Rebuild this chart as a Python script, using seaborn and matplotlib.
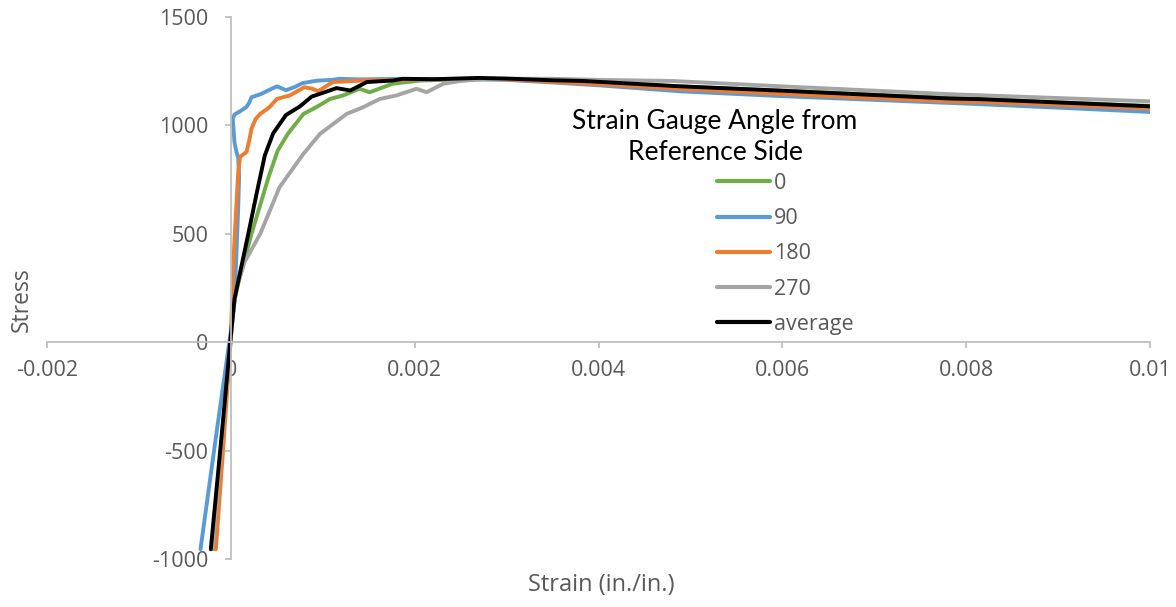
import matplotlib
matplotlib.use("Agg")
import matplotlib.pyplot as plt
import seaborn as sns
import pandas as pd

# ---- data ----
series_names = ["0", "90", "180", "270", "average"]

strain_0 = [-0.00019, -0.00009, 0.0, 0.00004, 0.00008, 0.000225, 0.00041, 0.00051, 0.00062, 0.00079,
            0.00093, 0.00108, 0.00122, 0.0014, 0.00151, 0.00176, 0.00206, 0.0025, 0.003, 0.004,
            0.005, 0.006, 0.008, 0.01]
stress_0 = [-955, -450, 25, 195, 270, 500, 761, 884, 961, 1053,
            1084, 1122, 1138, 1169, 1153, 1192, 1207, 1212, 1214, 1195,
            1178, 1160, 1124, 1090]

strain_90 = [-0.00033, -0.00015, 0.0, 0.00004, 0.00006, 0.00008, 0.00009, 0.00008, 0.00006, 0.00004,
             0.00003, 0.00002, 0.00004, 0.0001, 0.00017, 0.0002, 0.000225, 0.00028, 0.00033, 0.0004,
             0.0005, 0.00055, 0.0006, 0.0007, 0.00078, 0.00093, 0.0011, 0.00118, 0.0014, 0.0017,
             0.002, 0.0025, 0.003, 0.0035, 0.004, 0.0049, 0.006, 0.0078, 0.00815, 0.009, 0.01]
stress_90 = [-955, -400, 50, 190, 400, 620, 760, 850, 880, 920,
             980, 1030, 1050, 1065, 1085, 1105, 1130, 1138, 1145, 1160,
             1180, 1172, 1162, 1178, 1195, 1206, 1210, 1215, 1212, 1214,
             1213, 1214, 1210, 1198, 1185, 1157, 1135, 1104, 1098, 1082, 1062]

strain_180 = [-0.000163, -0.00008, 0.0, 0.000025, 0.00005, 0.00008, 0.0001, 0.00017, 0.0002, 0.000225,
              0.00027, 0.00032, 0.00042, 0.0005, 0.00064, 0.0008, 0.00088, 0.00095, 0.00111, 0.00144,
              0.002, 0.0027, 0.003, 0.004, 0.0049, 0.006, 0.0078, 0.00815, 0.01]
stress_180 = [-955, -470, 20, 347, 550, 780, 855, 877, 930, 985,
              1030, 1053, 1084, 1122, 1138, 1176, 1170, 1158, 1200, 1207,
              1212, 1216, 1212, 1190, 1168, 1145, 1111, 1108, 1078]

strain_270 = [-0.0002, -0.0001, 0.0, 0.00004, 0.00008, 0.00015, 0.00032, 0.00053, 0.00079, 0.00097,
              0.00126, 0.00144, 0.00162, 0.0018, 0.00202, 0.00213, 0.00231, 0.0025, 0.0028, 0.0035,
              0.004, 0.0048, 0.006, 0.00782, 0.00815, 0.01]
stress_270 = [-955, -460, 20, 195, 280, 370, 500, 715, 869, 961,
              1053, 1084, 1122, 1138, 1169, 1153, 1192, 1205, 1215, 1215,
              1210, 1205, 1180, 1144, 1139, 1111]

strain_avg = [-0.000218, -0.0001, 0.0, 0.00004, 0.00009, 0.00019, 0.00028, 0.00037, 0.00046, 0.0006,
              0.00075, 0.00088, 0.001, 0.00115, 0.0013, 0.00148, 0.00176, 0.00187, 0.0022, 0.0027,
              0.003, 0.0035, 0.00383, 0.0049, 0.006, 0.00782, 0.00815, 0.01]
stress_avg = [-955, -430, 30, 200, 300, 500, 685, 862, 963, 1048,
              1087, 1133, 1150, 1172, 1161, 1200, 1207, 1215, 1213, 1219,
              1216, 1208, 1205, 1180, 1160, 1124, 1121, 1088]

x_ticks = [-0.002, 0, 0.002, 0.004, 0.006, 0.008, 0.01]
x_tick_labels = ["-0.002", "0", "0.002", "0.004", "0.006", "0.008", "0.01"]
y_ticks = [-1000, -500, 0, 500, 1000, 1500]
y_tick_labels = ["-1000", "-500", "0", "500", "1000", "1500"]

colors = {"0": "#70AD47", "90": "#5B9BD5", "180": "#ED7D31", "270": "#A5A5A5", "average": "#000000"}

frames = []
for name, xs, ys in zip(series_names,
                        [strain_0, strain_90, strain_180, strain_270, strain_avg],
                        [stress_0, stress_90, stress_180, stress_270, stress_avg]):
    frames.append(pd.DataFrame({"Strain": xs, "Stress": ys, "series": name}))
df = pd.concat(frames, ignore_index=True)

# ---- plot ----
sns.set_theme(style="white")
plt.rcParams["font.family"] = ["Open Sans", "DejaVu Sans"]

W, H = 1176, 607
fig = plt.figure(figsize=(W / 100, H / 100), dpi=100)
ax = fig.add_axes([47 / W, 1 - 559 / H, (1150 - 47) / W, (559 - 17) / H])

sns.lineplot(data=df, x="Strain", y="Stress", hue="series", hue_order=series_names,
             palette=colors, sort=False, estimator=None, linewidth=2.8, ax=ax, legend=True)

ax.set_xlim(-0.002, 0.01)
ax.set_ylim(-1000, 1500)
ax.set_xticks(x_ticks)
ax.set_xticklabels(x_tick_labels)
ax.set_yticks(y_ticks)
ax.set_yticklabels(y_tick_labels)

axis_gray = "#BFBFBF"
label_gray = "#595959"
for s in ["top", "right"]:
    ax.spines[s].set_visible(False)
ax.spines["left"].set_position(("data", 0))
ax.spines["bottom"].set_position(("data", 0))
for s in ["left", "bottom"]:
    ax.spines[s].set_color(axis_gray)
    ax.spines[s].set_linewidth(1.3)
ax.tick_params(axis="both", direction="out", length=4, width=1.3, color=axis_gray,
               labelcolor=label_gray, labelsize=15.5)
ax.tick_params(axis="y", pad=12, left=True)
ax.tick_params(axis="x", pad=9, bottom=True)
ax.set_xlabel("")
ax.set_ylabel("")

fig.text(22 / W, 1 - 300 / H, "Stress", rotation=90, ha="center", va="center",
         color=label_gray, fontsize=16.5)
fig.text(601 / W, 1 - 585 / H, "Strain (in./in.)", ha="center", va="center",
         color=label_gray, fontsize=17)

fig.text(715 / W, 1 - 137 / H, "Strain Gauge Angle from\nReference Side", ha="center",
         va="center", color="black", fontsize=19, linespacing=1.25,
         family=["Lato", "DejaVu Sans"])

handles, labels = ax.get_legend_handles_labels()
ax.legend(handles, labels, loc="upper left", bbox_to_anchor=(717 / W, 1 - 173 / H),
          bbox_transform=fig.transFigure, frameon=False, fontsize=15.5,
          handlelength=2.45, handletextpad=0.18, labelspacing=0.66, borderpad=0,
          borderaxespad=0, labelcolor=label_gray)
for line in ax.get_legend().get_lines():
    line.set_linewidth(3)

fig.savefig("out.png", dpi=100)
